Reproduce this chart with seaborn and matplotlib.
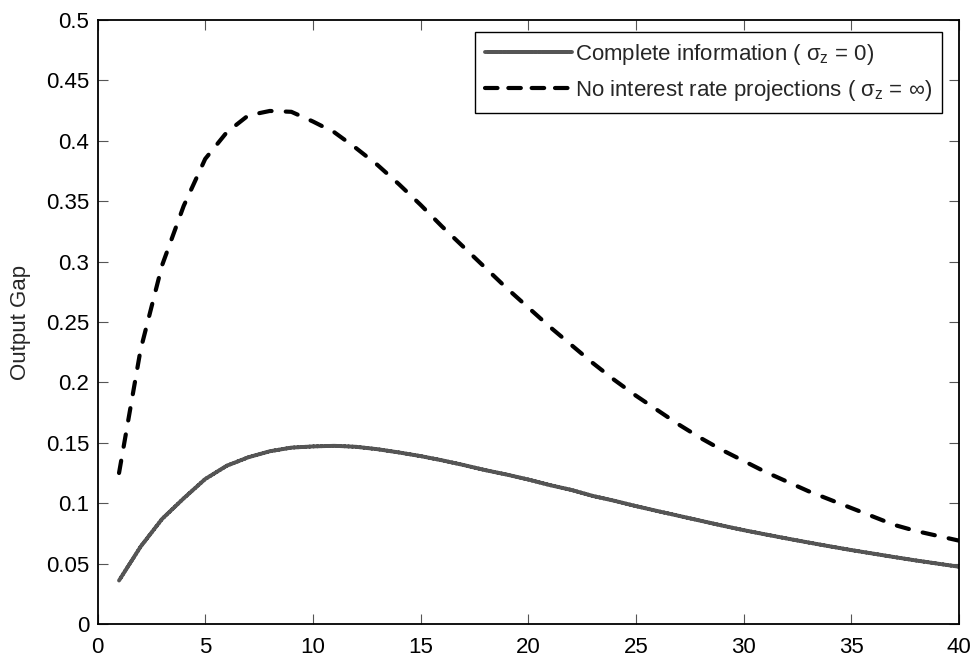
import numpy as np
import pandas as pd
import matplotlib
matplotlib.use('Agg')
import matplotlib.pyplot as plt
import seaborn as sns

# impulse responses, horizon 1..40
horizon = list(range(1, 41))
complete_info = [0.036, 0.064, 0.087, 0.104, 0.120, 0.131, 0.138, 0.143, 0.146, 0.147,
                 0.1475, 0.1467, 0.1447, 0.142, 0.139, 0.1355, 0.1316, 0.1274, 0.1237, 0.1196,
                 0.115, 0.111, 0.106, 0.102, 0.0976, 0.0935, 0.0895, 0.0855, 0.0815, 0.0777,
                 0.0742, 0.0708, 0.0675, 0.0643, 0.0612, 0.0583, 0.0554, 0.0526, 0.050, 0.0474]
no_projections = [0.125, 0.227, 0.297, 0.346, 0.385, 0.407, 0.421, 0.4247, 0.424, 0.416,
                  0.407, 0.394, 0.380, 0.364, 0.347, 0.329, 0.312, 0.295, 0.278, 0.262,
                  0.246, 0.231, 0.216, 0.202, 0.189, 0.177, 0.165, 0.154, 0.144, 0.135,
                  0.126, 0.118, 0.110, 0.103, 0.096, 0.089, 0.082, 0.077, 0.073, 0.069]

labels = [r'Complete information ( $\sigma_{z}$ = 0)',
          r'No interest rate projections ( $\sigma_{z}$ = $\infty$)']

df = pd.DataFrame({'horizon': horizon * 2,
                   'gap': complete_info + no_projections,
                   'case': [labels[0]] * 40 + [labels[1]] * 40})

sns.set_style('ticks')
plt.rcParams['font.family'] = ['Liberation Sans', 'DejaVu Sans']
plt.rcParams['mathtext.fontset'] = 'custom'
plt.rcParams['mathtext.rm'] = 'Liberation Sans'
plt.rcParams['mathtext.it'] = 'Liberation Sans'
plt.rcParams['mathtext.fallback'] = 'cm'

fig = plt.figure(figsize=(9.76, 6.61), dpi=100)
# axes box: x 97..959, y 20..624 px
ax = fig.add_axes([97.5 / 976, 37 / 661, 861.5 / 976, 604 / 661])

widths = [2.8, 3.0]
sns.lineplot(data=df, x='horizon', y='gap', hue='case', style='case',
             palette=['#555555', 'black'], dashes=[(1, 0), (3.0, 3.4)],
             ax=ax)
for line, lw in zip(ax.lines[:2], widths):
    line.set_linewidth(lw)
    line.set_dash_capstyle('round')
    line.set_solid_capstyle('round')
    line.set_solid_joinstyle('round')

ax.set_xlim(0, 40)
ax.set_ylim(0, 0.5)
ax.set_xticks(np.arange(0, 41, 5))
ax.set_yticks(np.arange(0, 0.51, 0.05))
ax.set_yticklabels(['0', '0.05', '0.1', '0.15', '0.2', '0.25', '0.3', '0.35', '0.4', '0.45', '0.5'])
ax.tick_params(direction='in', top=True, right=True, length=7, width=0.8,
               labelsize=16, colors='#555555', labelcolor='black')
ax.tick_params(axis='x', pad=9.5)
ax.tick_params(axis='y', pad=6)
for s in ax.spines.values():
    s.set_linewidth(1.3)
    s.set_color('black')

ax.set_xlabel('')
ax.set_ylabel('Output Gap', fontsize=16)
ax.yaxis.set_label_coords(-0.077, 0.5)

leg = ax.legend(loc='upper right', bbox_to_anchor=(0.9805, 0.980), borderaxespad=0,
                fontsize=16, frameon=True, fancybox=False,
                edgecolor='black', framealpha=1, handlelength=3.9, handletextpad=0.15,
                borderpad=0.45, labelspacing=0.5)
leg.get_frame().set_linewidth(1.0)
for h, lw in zip(leg.get_lines(), widths):
    h.set_linewidth(lw)
    h.set_dash_capstyle('round')
leg.get_lines()[1].set_dashes((3.0, 2.6))

fig.savefig('out.png', dpi=100)
